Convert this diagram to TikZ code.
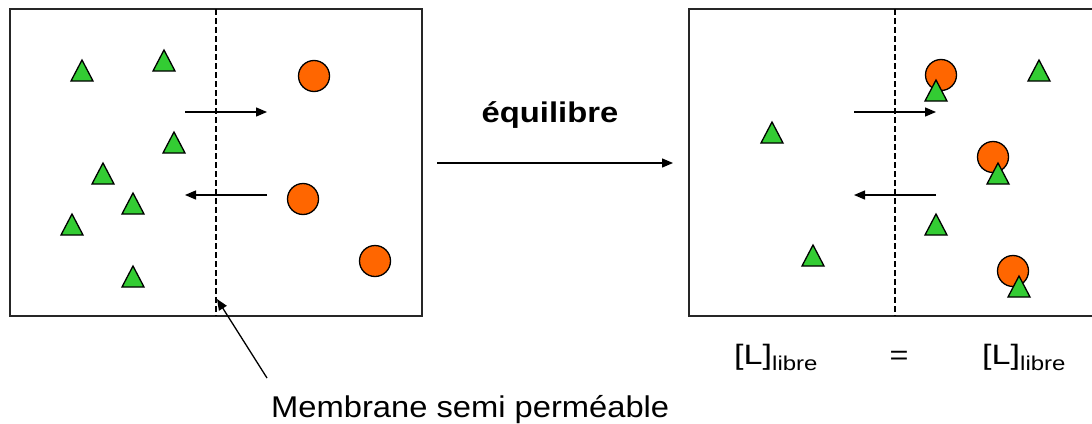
\documentclass[tikz,border=0pt]{standalone}
\usepackage{graphicx}
\usepackage{fontspec}
\setmainfont{Liberation Sans}
\usetikzlibrary{arrows.meta}

\definecolor{ligandgreen}{HTML}{33CC33}
\definecolor{proteinorange}{HTML}{FF6600}

% free-ligand concentration label
\newcommand\freeconc{%
  \scalebox{1.22}[1]{\fontsize{28}{32}\selectfont[L]}%
  \raisebox{-6pt}{\scalebox{1.2}[1]{\fontsize{20}{22}\selectfont libre}}}

\tikzset{
  chamber/.style={draw=black!85, line width=1.8pt},
  membrane/.style={draw=black, line width=1.4pt, dash pattern=on 6pt off 3pt},
  flux/.style={draw=black, line width=1.3pt, -{Triangle[length=11pt,width=9pt]}},
  protein/.style={circle, draw=black, line width=1.3pt, fill=proteinorange,
                  minimum size=31pt, inner sep=0pt},
  ligand/.pic={\draw[draw=black, line width=1.3pt, fill=ligandgreen, line join=miter]
                 (-11,0) -- (0,-21) -- (11,0) -- cycle;},
  label/.style={inner sep=0pt, text=black}
}

\begin{document}
\begin{tikzpicture}[x=1pt, y=-1pt]
\useasboundingbox (0,0) rectangle (1092,423);
\clip (0,0) rectangle (1092,423);

% ---- initial state ----
\draw[chamber] (10,9) rectangle (422,316);
\coordinate (mtopA) at (216,9);
\coordinate (mbotA) at (216,316);
\draw[membrane] (mtopA) -- (mbotA);

\foreach \x/\y in {82/81, 164/71, 174/153, 103/184, 133/214, 72/235, 133/287}
  \pic at (\x,\y) {ligand};
\node[protein] (pA1) at (314,76) {};
\node[protein] (pA2) at (303,199) {};
\node[protein] (pA3) at (375,261) {};

\coordinate (fA1s) at (185,112); \coordinate (fA1e) at (267,112);
\coordinate (fA2s) at (267,195); \coordinate (fA2e) at (185,195);
\draw[flux] (fA1s) -- (fA1e);
\draw[flux] (fA2s) -- (fA2e);

% ---- membrane caption ----
\node[label, anchor=base west] (memtxt) at (271,417)
  {\scalebox{1.09}[1]{\fontsize{30}{34}\selectfont Membrane semi perméable}};
\coordinate (ptrstart) at (267,378);
\coordinate (ptrend) at (217,299);
\draw[flux] (ptrstart) -- (ptrend);

% ---- transition ----
\node[label, anchor=base] (eqtxt) at (550,122)
  {\scalebox{1.15}[1]{\fontsize{28.5}{32}\selectfont\bfseries équilibre}};
\coordinate (eqs) at (437,163);
\coordinate (eqe) at (673,163);
\draw[flux] (eqs) -- (eqe);

% ---- equilibrium state ----
\draw[chamber] (689,9) rectangle (1101,316);
\coordinate (mtopB) at (895,9);
\coordinate (mbotB) at (895,316);
\draw[membrane] (mtopB) -- (mbotB);

\node[protein] (pB1) at (941,75) {};
\node[protein] (pB2) at (993,157) {};
\node[protein] (pB3) at (1013,271) {};
\foreach \x/\y in {936/101, 1039/81, 772/143, 998/184, 936/235, 813/266, 1019/297}
  \pic at (\x,\y) {ligand};

\coordinate (fB1s) at (854,112); \coordinate (fB1e) at (936,112);
\coordinate (fB2s) at (936,195); \coordinate (fB2e) at (854,195);
\draw[flux] (fB1s) -- (fB1e);
\draw[flux] (fB2s) -- (fB2e);

% ---- free ligand balance ----
\node[label, anchor=base west] (lleft) at (734,364) {\freeconc};
\node[label, anchor=base] (eqsign) at (899,364)
  {\scalebox{1.2}[1]{\fontsize{27}{30}\selectfont =}};
\node[label, anchor=base west] (lright) at (982,364) {\freeconc};
\end{tikzpicture}
\end{document}
